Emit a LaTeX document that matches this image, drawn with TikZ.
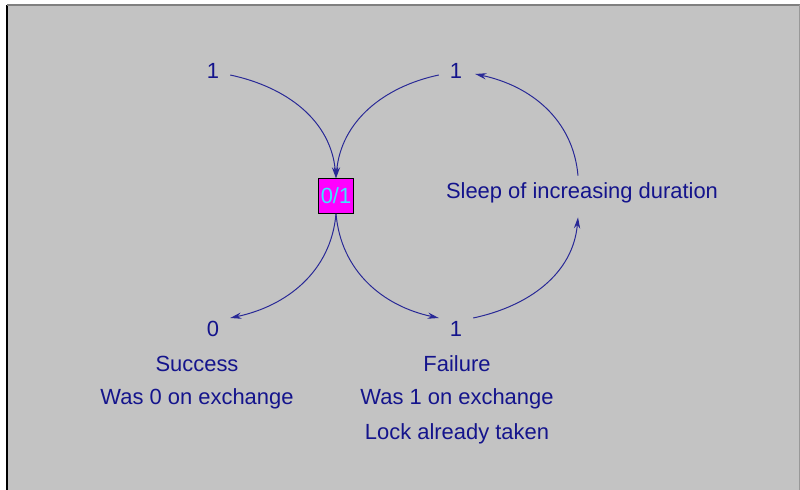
\documentclass[tikz,border=0pt]{standalone}
\usepackage{fontspec}
\setmainfont{Liberation Sans}
\usetikzlibrary{arrows.meta}
\definecolor{bgray}{RGB}{195,195,195}
\definecolor{ink}{RGB}{20,20,140}
\definecolor{wire}{RGB}{40,40,150}
\definecolor{lockfill}{RGB}{255,0,255}
\definecolor{locktext}{RGB}{60,230,255}

\begin{document}
\begin{tikzpicture}[x=0.025cm,y=-0.025cm,
  lbl/.style={text=ink,font=\fontsize{15.6}{18}\selectfont,inner sep=2pt},
  flow/.style={wire,line width=0.7pt,-{Stealth[length=8pt,width=4.5pt]}}]
\useasboundingbox (0,0) rectangle (800,490);
\fill[bgray] (7,5) rectangle (800,490);
\draw[black,line width=1.5pt] (7,5) -- (7,490);
\draw[gray,line width=1.2pt] (7,5) -- (800,5);
\draw[gray!80,line width=0.4pt] (799.5,5) -- (799.5,490);

\node[lbl] (inL) at (213,71) {1};
\node[lbl] (inR) at (456,71) {1};
\node[draw=black,fill=lockfill,text=locktext,font=\fontsize{15.6}{18}\selectfont,
  minimum size=0.875cm,inner sep=0pt] (lock) at (336,196) {0/1};
\node[lbl] (zero) at (213,329) {0};
\node[lbl] (one) at (456,329) {1};
\node[lbl] (sleep) at (582,193) {Sleep of increasing duration};
\node[lbl] at (197,364) {Success};
\node[lbl] at (197,399) {Was 0 on exchange};
\node[lbl] at (457,364) {Failure};
\node[lbl] at (457,399) {Was 1 on exchange};
\node[lbl] at (457,434) {Lock already taken};

\draw[flow] ([shift={(8,4)}]inL.east) to[out=-12,in=95] (lock.north);
\draw[flow] ([shift={(-8,4)}]inR.west) to[out=192,in=85] (lock.north);
\draw[flow] (lock.south) to[out=-95,in=12] ([shift={(8,-11)}]zero.east);
\draw[flow] (lock.south) to[out=-85,in=168] ([shift={(-8,-11)}]one.west);
\draw[flow] ([shift={(8,-11)}]one.east) to[out=12,in=-95] ([shift={(-4,11)}]sleep.south);
\draw[flow] ([shift={(-4,-4)}]sleep.north) to[out=95,in=-12] ([shift={(10,3)}]inR.east);
\end{tikzpicture}
\end{document}
